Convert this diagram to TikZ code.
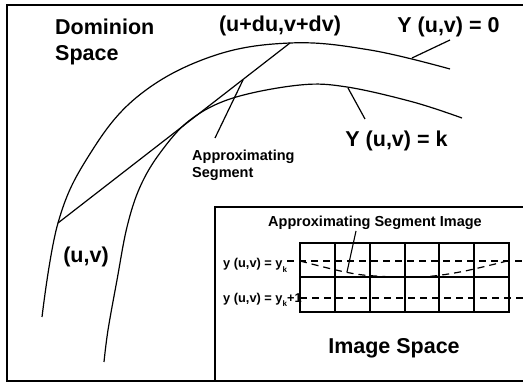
\documentclass[tikz,border=0pt]{standalone}
\usepackage{fontspec}
\setmainfont{Liberation Sans}
\begin{document}
\begin{tikzpicture}[x=1pt,y=-1pt,
  big/.style={font=\bfseries\fontsize{21.5}{25}\selectfont, inner sep=0pt, anchor=base},
  mid/.style={font=\bfseries\fontsize{14.5}{17}\selectfont, inner sep=0pt},
  small/.style={font=\bfseries\fontsize{12.8}{14}\selectfont, inner sep=0pt, anchor=base west},
  frame/.style={line width=1.6pt},
  curve/.style={line width=1.2pt},
  gridline/.style={line width=1.2pt},
  dashline/.style={line width=1.2pt, dash pattern=on 7pt off 5pt}]
\useasboundingbox (0,0) rectangle (523,385);
% outer frame
\draw[frame] (530,5) -- (7,5) -- (7,381) -- (530,381);
% curves
\draw[curve] plot[smooth, tension=0.65] coordinates {(42,317) (58,223) (88,157) (137,97) (210,57) (290,43) (370,50) (450,69)};
\draw[curve] plot[smooth, tension=0.6] coordinates {(104,362) (108,330) (117,280) (127,227) (140,187) (160,153) (190,120) (233,98) (300,85) (347,87) (413,102) (462,118)};
% named points
\coordinate (uv) at (58,223);
\coordinate (uvd) at (290,43);
\coordinate (on0) at (412,58);
\coordinate (onk) at (348,88);
\coordinate (onchord) at (243,80);
% chord
\draw[curve] (uv) -- (uvd);
% labels
\node[big, anchor=base west] (dom1) at (55,35) {Dominion};
\node[big, anchor=base west] (dom2) at (55,61) {Space};
\node[big] (top) at (280,32) {(u+du,v+dv)};
\node[big] (y0) at (448.5,33) {Y (u,v) = 0};
\node[big] (yk) at (396.5,147) {Y (u,v) = k};
\node[big] (uvl) at (86,263) {(u,v)};
\node[mid, anchor=base west] (as1) at (192,161) {Approximating};
\node[mid, anchor=base west] (as2) at (192,178) {Segment};
\coordinate (t0) at (450,40);
\coordinate (tk) at (365,119);
\coordinate (ta) at (215,138);
\draw[curve] (t0) -- (on0);
\draw[curve] (tk) -- (onk);
\draw[curve] (ta) -- (onchord);
% inset
\draw[gridline] (530,207) -- (215,207) -- (215,381);
\node[mid, anchor=base] (asi) at (375,227) {Approximating Segment Image};
\node[big] (isp) at (394,354) {Image Space};
% grid
\draw[gridline] (300,243) rectangle (509,312);
\draw[gridline] (300,277) -- (509,277);
\foreach \x in {335,370,405,439,474} \draw[gridline] (\x,243) -- (\x,312);
% dashed levels
\node[small] (lk) at (223,268) {y (u,v) = y\raisebox{-4.5pt}{\fontsize{8}{8}\selectfont k}};
\node[small] (lk1) at (223,302) {y (u,v) = y\raisebox{-4.5pt}{\fontsize{8}{8}\selectfont k}+1};
\coordinate (dk) at (287,261);
\coordinate (dk1) at (300,298);
\draw[dashline] (dk) -- (523,261);
\draw[dashline] (dk1) -- (523,298);
\draw[dashline] plot[smooth, tension=0.6] coordinates {(300,261) (345,272) (375,276) (420,277) (460,272) (507,261)};
\coordinate (ps) at (356,231);
\coordinate (pe) at (347,272);
\draw[line width=1.1pt] (ps) -- (pe);
\end{tikzpicture}
\end{document}
